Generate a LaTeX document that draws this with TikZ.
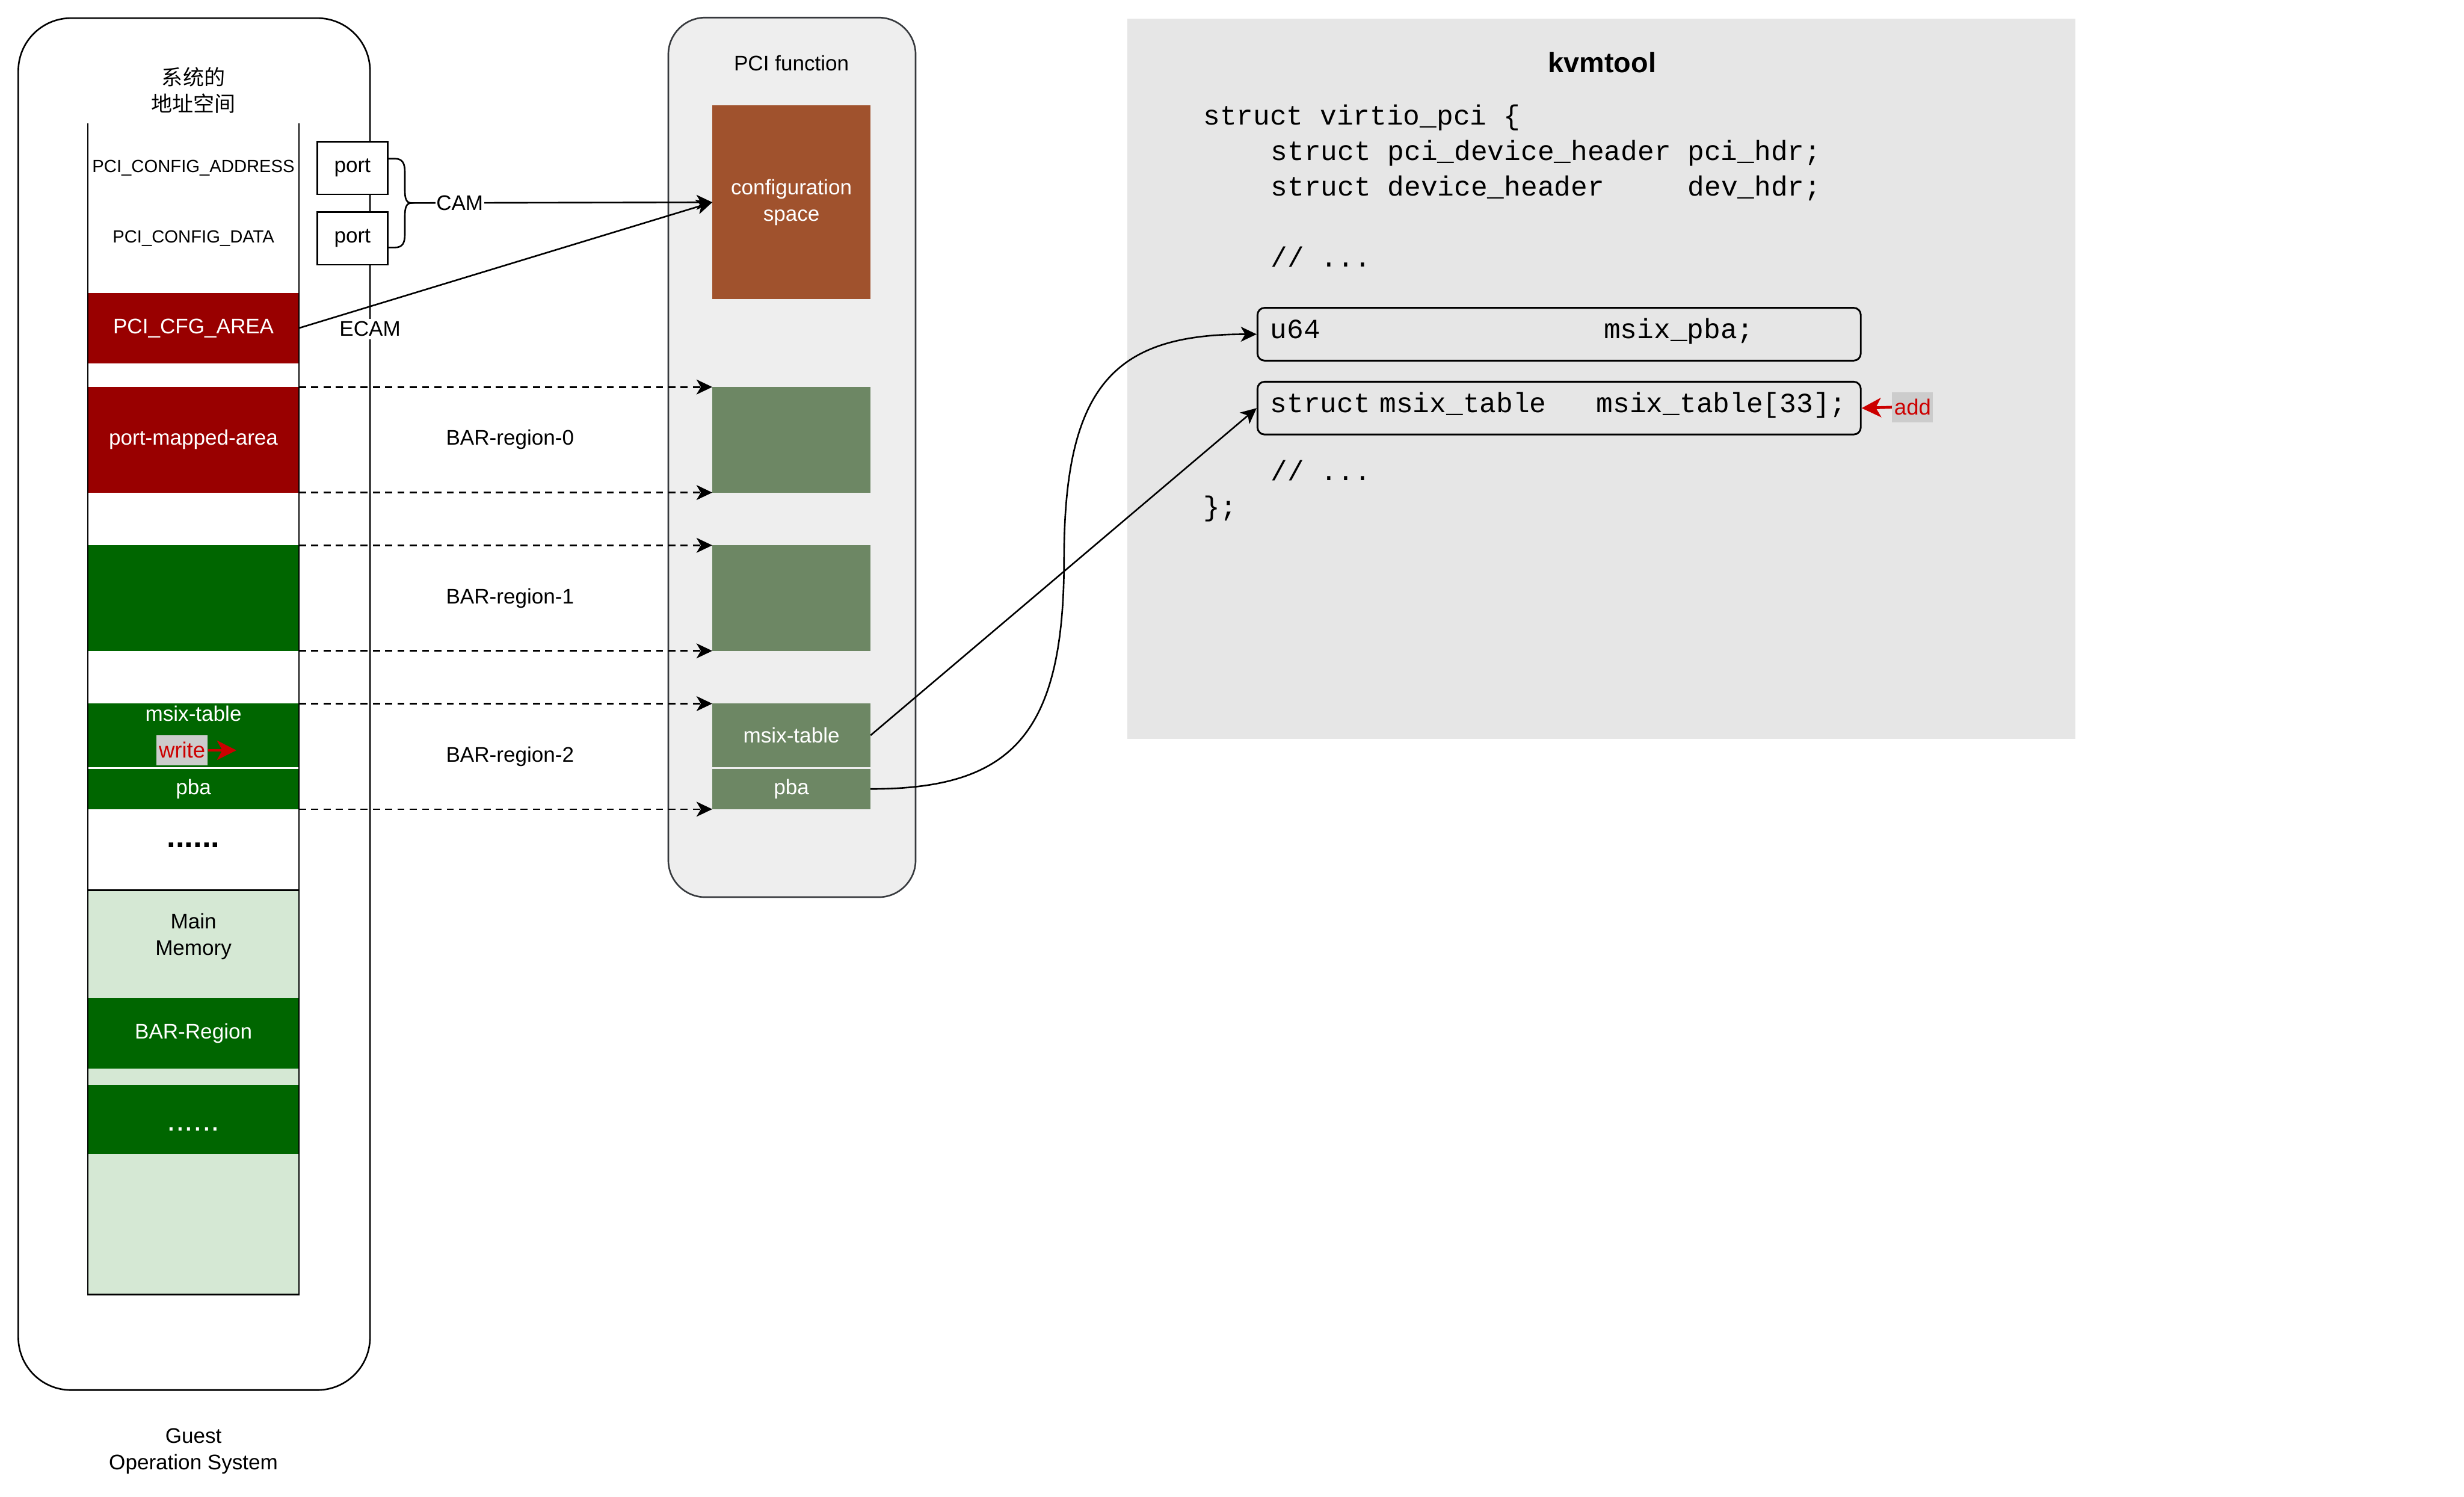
\documentclass[tikz,border=0pt]{standalone}
\usepackage{fontspec}
\setmainfont{Liberation Sans}
\newfontfamily\cjkfont{Noto Sans CJK SC}
\newfontfamily\codefont{Liberation Mono}
\usepackage{tikz}
\usetikzlibrary{arrows.meta,positioning}
\usepackage{xcolor}
\definecolor{mycfgred}{RGB}{153,0,0}
\definecolor{mybargreen}{RGB}{0,102,0}
\definecolor{mymemgreen}{RGB}{213,232,212}
\definecolor{mybrown}{RGB}{160,82,45}
\definecolor{myfngreen}{RGB}{109,135,100}
\definecolor{myfnbg}{RGB}{238,238,238}
\definecolor{myfnedge}{RGB}{54,57,61}
\definecolor{mypanel}{RGB}{230,230,230}
\definecolor{myred}{RGB}{204,0,0}
\definecolor{mytagbg}{RGB}{204,204,204}
\newcommand{\codegap}[1]{\hspace*{#1\fontcharwd\font`\x}}
\tikzset{
  lbl/.style={font=\fontsize{12}{15}\selectfont},
  memblock/.style={lbl,minimum width=120pt,inner sep=0pt,outer sep=0pt,text=white},
  fnblock/.style={lbl,minimum width=90pt,inner sep=0pt,outer sep=0pt,text=white,fill=myfngreen},
  portbox/.style={lbl,draw,fill=white,line width=0.9pt,minimum width=40pt,minimum height=30pt,inner sep=0pt},
  codebox/.style={draw,line width=1pt,rounded corners=4pt,minimum width=343pt,minimum height=30pt,
    inner xsep=7.3pt,text width=328.4pt,align=left,text height=10pt,text depth=5pt,
    font=\codefont\fontsize{15.8}{20}\selectfont},
  code/.style={font=\codefont\fontsize{15.8}{20}\selectfont,anchor=base west,inner sep=0pt},
  link/.style={-{Stealth[length=9pt,width=8.5pt,inset=2.5pt]},line width=0.9pt},
  bararrow/.style={link,dashed,dash pattern=on 4pt off 3pt},
  redarrow/.style={-{Stealth[length=11pt,width=11pt,inset=3pt]},draw=myred,line width=1.6pt},
  tag/.style={font=\fontsize{12.5}{15}\selectfont,fill=mytagbg,text=myred,minimum height=17pt,inner ysep=0pt}
}
\begin{document}
\begin{tikzpicture}[x=1pt,y=-1pt]
  \useasboundingbox (0,0) rectangle (1401,851);
  \draw[line width=0.9pt,rounded corners=30pt] (10.4,10.3) rectangle (210.4,790.2);
  \node[font=\cjkfont\fontsize{12}{15}\selectfont,align=center] (addrspace) at (110,51.3) {系统的\\地址空间};
  \node[font=\fontsize{10}{12}\selectfont] (cfgaddr) at (110,95.5) {PCI\_CONFIG\_ADDRESS};
  \node[font=\fontsize{10}{12}\selectfont] (cfgdata) at (110,135.6) {PCI\_CONFIG\_DATA};
  \node[memblock,fill=mycfgred,minimum height=40pt] (cfgarea) at (110,186.5) {PCI\_CFG\_AREA};
  \node[memblock,fill=mycfgred,minimum height=60pt] (portarea) at (110,250) {port-mapped-area};
  \node[memblock,fill=mybargreen,minimum height=60pt] (bar1mem) at (110,340) {};
  \node[memblock,fill=mybargreen,minimum height=36pt,
    label={[lbl,text=white,anchor=north,inner sep=1pt]north:msix-table}] (msixmem) at (110,418) {};
  \node[memblock,fill=mybargreen,minimum height=23pt,below=1pt of msixmem] (pbamem) {pba};
  \node[font=\bfseries\fontsize{18}{18}\selectfont] (gapdots) at (110,480.5) {......};
  \node[draw,line width=0.9pt,fill=mymemgreen,minimum width=120pt,minimum height=230pt,
    anchor=north,outer sep=0pt] (mainmem) at (110,506) {};
  \node[lbl,align=center] (memlbl) at (110,532.5) {Main\\Memory};
  \node[memblock,fill=mybargreen,minimum height=40pt] (barmem) at (110,587.5) {BAR-Region};
  \node[memblock,fill=mybargreen,minimum height=39.5pt] (moremem) at (110,636.3) {};
  \node[font=\fontsize{18}{18}\selectfont,text=white] (moredots) at (110,641.9) {......};
  \draw[line width=0.9pt] (50,70) -- (50,736) (170,70) -- (170,736);
  \node[lbl,align=center] (guestos) at (110,825) {Guest\\Operation System};

  \node[portbox] (port1) at (200.4,95.5) {port};
  \node[portbox] (port2) at (200.4,135.5) {port};
  \draw[line width=0.9pt] (220.7,90.2) -- (224.5,90.2) .. controls (229,90.2) and (230.2,93) .. (230.2,98)
    -- (230.2,108) .. controls (230.2,113) and (231,115.4) .. (234,115.4)
    .. controls (231,115.4) and (230.2,118) .. (230.2,123) -- (230.2,133)
    .. controls (230.2,138) and (229,140.7) .. (224.5,140.7) -- (220.7,140.7);
  \coordinate (bracetip) at (234,115.4);

  \draw[fill=myfnbg,draw=myfnedge,line width=0.9pt,rounded corners=21pt] (380,10) rectangle (520.6,510);
  \node[lbl] (fnlbl) at (450,36) {PCI function};
  \node[lbl,fill=mybrown,text=white,minimum width=90pt,minimum height=110pt,inner sep=0pt,
    outer sep=0pt,align=center] (cfgspace) at (450,115) {configuration\\space};
  \node[fnblock,minimum height=60pt] (bar0fn) at (450,250) {};
  \node[fnblock,minimum height=60pt] (bar1fn) at (450,340) {};
  \node[fnblock,minimum height=36pt] (msixfn) at (450,418) {msix-table};
  \node[fnblock,minimum height=23pt,below=1pt of msixfn] (pbafn) {pba};

  \fill[mypanel] (641,10.5) rectangle (1180,420);
  \node[font=\bfseries\fontsize{16}{19}\selectfont] (kvmtitle) at (911,35.5) {kvmtool};
  \node[code] (line1) at (684,71) {struct virtio\_pci \{};
  \node[code] (line2) at (722.4,91.2) {struct pci\_device\_header pci\_hdr;};
  \node[code] (line3) at (722.4,111.4) {struct device\_header\codegap{5}dev\_hdr;};
  \node[code] (line4) at (722.4,151.8) {// ...};
  \node[codebox] (pbabox) at (886.5,190) {u64\codegap{17}msix\_pba;};
  \node[codebox] (tblbox) at (886.5,232) {struct msix\_table\codegap{3}msix\_table[33];};
  \node[code] (line5) at (722.4,273) {// ...};
  \node[code] (line6) at (684,293.2) {\};};

  \draw[bararrow] (portarea.north east) -- (bar0fn.north west);
  \draw[bararrow] (portarea.south east) -- (bar0fn.south west);
  \draw[bararrow] (bar1mem.north east) -- (bar1fn.north west);
  \draw[bararrow] (bar1mem.south east) -- (bar1fn.south west);
  \draw[bararrow] (msixmem.north east) -- (msixfn.north west);
  \draw[bararrow] (pbamem.south east) -- (pbafn.south west);
  \node[lbl] (bar0lbl) at (290,250) {BAR-region-0};
  \node[lbl] (bar1lbl) at (290,340) {BAR-region-1};
  \node[lbl] (bar2lbl) at (290,430) {BAR-region-2};

  \draw[link] (bracetip) -- (cfgspace.west);
  \draw[link] (cfgarea.east) -- (cfgspace.west);
  \node[lbl,fill=white,inner sep=0.5pt] (camlbl) at (261.4,115.4) {CAM};
  \node[lbl,fill=white,inner sep=1.5pt] (ecamlbl) at (210.4,187) {ECAM};

  \draw[link] (msixfn.east) -- (tblbox.west);
  \coordinate (pbabend) at (605,318);
  \draw[link] (pbafn.east) .. controls +(80,0) and +(0,100) .. (pbabend)
    .. controls +(0,-100) and +(-80,0) .. (pbabox.west);

  \node[tag,inner xsep=1.3pt] (writetag) at (103.5,426.5) {write};
  \coordinate (writetip) at (134.4,426.5);
  \draw[redarrow] (writetag.east) -- (writetip);
  \node[tag,inner xsep=1.2pt] (addtag) at (1087.5,231.5) {add};
  \draw[redarrow] (addtag.west) -- (tblbox.east);
\end{tikzpicture}
\end{document}
